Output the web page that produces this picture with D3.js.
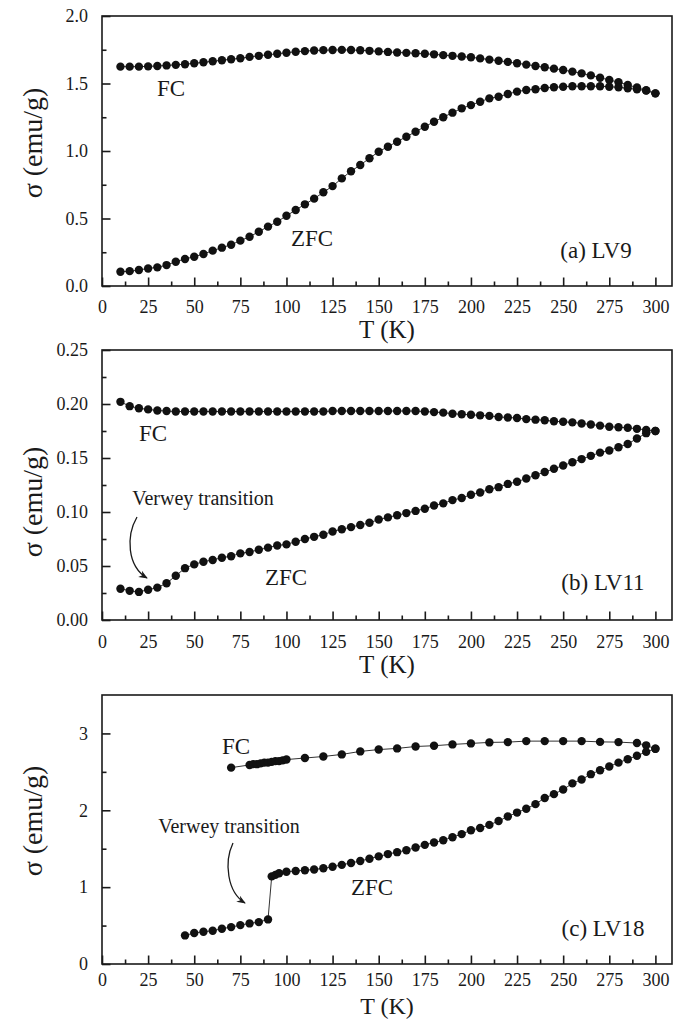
<!DOCTYPE html>
<html lang="en">
<head>
<meta charset="UTF-8">
<title>sigma vs T</title>
<script src="https://d3js.org/d3.v7.min.js"></script>
<style>
    body { margin: 0; background: #fff; }
    svg text { font-family: "Liberation Serif", "Times New Roman", serif; fill: #1a1a1a; }
</style>
</head>
<body>
<svg id="chart" width="674" height="1021"></svg>
<script>
// temperatures (K) shared by panels a and b
const tempsAB = [10, 15, 20, 25, 30, 35, 40, 45, 50, 55, 60, 65, 70, 75, 80, 85, 90, 95, 100, 105,
    110, 115, 120, 125, 130, 135, 140, 145, 150, 155, 160, 165, 170, 175, 180, 185, 190, 195, 200, 205,
    210, 215, 220, 225, 230, 235, 240, 245, 250, 255, 260, 265, 270, 275, 280, 285, 290, 295, 300];

// (a) LV9
const fcA = [1.625, 1.625, 1.625, 1.627, 1.63, 1.634, 1.638, 1.643, 1.65, 1.657,
    1.665, 1.672, 1.68, 1.687, 1.697, 1.705, 1.713, 1.72, 1.728, 1.735,
    1.74, 1.744, 1.747, 1.748, 1.749, 1.748, 1.746, 1.742, 1.738, 1.734,
    1.73, 1.727, 1.724, 1.72, 1.716, 1.71, 1.705, 1.70, 1.694, 1.686,
    1.677, 1.668, 1.66, 1.65, 1.64, 1.63, 1.62, 1.61, 1.60, 1.588,
    1.575, 1.56, 1.543, 1.526, 1.51, 1.49, 1.47, 1.45, 1.427];
const zfcA = [0.106, 0.11, 0.118, 0.13, 0.138, 0.155, 0.18, 0.20, 0.217, 0.237,
    0.262, 0.284, 0.306, 0.336, 0.365, 0.402, 0.44, 0.476, 0.52, 0.563,
    0.605, 0.647, 0.694, 0.74, 0.797, 0.85, 0.896, 0.946, 0.995, 1.032,
    1.069, 1.106, 1.143, 1.18, 1.217, 1.25, 1.284, 1.316, 1.34, 1.365,
    1.39, 1.402, 1.422, 1.44, 1.452, 1.457, 1.467, 1.472, 1.476, 1.48,
    1.48, 1.48, 1.48, 1.476, 1.472, 1.465, 1.457, 1.447, 1.427];

// (b) LV11
const fcB = [0.202, 0.198, 0.196, 0.195, 0.194, 0.1935, 0.193, 0.193, 0.193, 0.193,
    0.193, 0.193, 0.193, 0.193, 0.193, 0.193, 0.193, 0.193, 0.193, 0.193,
    0.193, 0.193, 0.193, 0.1935, 0.1935, 0.1935, 0.1935, 0.1935, 0.1935, 0.1935,
    0.1935, 0.1935, 0.1935, 0.193, 0.1925, 0.192, 0.191, 0.1905, 0.190, 0.1895,
    0.189, 0.188, 0.1875, 0.187, 0.186, 0.1855, 0.185, 0.184, 0.1835, 0.183,
    0.182, 0.181, 0.180, 0.179, 0.1785, 0.178, 0.177, 0.176, 0.175];
const zfcB = [0.029, 0.027, 0.026, 0.028, 0.030, 0.034, 0.041, 0.048, 0.0515, 0.054,
    0.0556, 0.0577, 0.059, 0.0617, 0.063, 0.065, 0.067, 0.069, 0.070, 0.0725,
    0.075, 0.077, 0.079, 0.082, 0.084, 0.086, 0.088, 0.090, 0.093, 0.095,
    0.097, 0.099, 0.101, 0.103, 0.106, 0.108, 0.111, 0.113, 0.116, 0.118,
    0.121, 0.123, 0.126, 0.128, 0.131, 0.134, 0.137, 0.140, 0.143, 0.146,
    0.149, 0.152, 0.155, 0.157, 0.160, 0.163, 0.168, 0.173, 0.175];

// (c) LV18
const tempsFcC = [70, 80, 82, 84, 86, 88, 90, 92, 94, 96, 98, 100,
    110, 120, 130, 140, 150, 160, 170, 180, 190, 200, 210, 220, 230, 240, 250, 260, 270, 280, 290, 295, 300];
const fcC = [2.555, 2.59, 2.60, 2.60, 2.61, 2.62, 2.62, 2.63, 2.64, 2.64, 2.65, 2.66,
    2.68, 2.70, 2.727, 2.766, 2.79, 2.805, 2.83, 2.84, 2.857, 2.87, 2.883, 2.887, 2.90, 2.90, 2.90, 2.90,
    2.89, 2.887, 2.875, 2.845, 2.80];
const tempsZfcC = [45, 50, 55, 60, 65, 70, 75, 80, 85, 90, 92, 94, 96,
    100, 105, 110, 115, 120, 125, 130, 135, 140, 145, 150, 155, 160, 165, 170, 175, 180, 185, 190, 195,
    200, 205, 210, 215, 220, 225, 230, 235, 240, 245, 250, 255, 260, 265, 270, 275, 280, 285, 290, 295, 300];
const zfcC = [0.372, 0.403, 0.42, 0.433, 0.459, 0.48, 0.506, 0.528, 0.545, 0.58, 1.14, 1.16, 1.18,
    1.20, 1.21, 1.22, 1.23, 1.245, 1.265, 1.29, 1.315, 1.34, 1.37, 1.40, 1.43, 1.455, 1.48, 1.515, 1.55,
    1.58, 1.61, 1.65, 1.69, 1.74, 1.77, 1.81, 1.86, 1.92, 1.97, 2.02, 2.08, 2.16, 2.21, 2.27, 2.35,
    2.40, 2.47, 2.52, 2.57, 2.62, 2.665, 2.71, 2.76, 2.80];

// tick labels
const xTicks = [0, 25, 50, 75, 100, 125, 150, 175, 200, 225, 250, 275, 300];
const yTicksA = [0, 0.5, 1.0, 1.5, 2.0];
const yTicksB = [0, 0.05, 0.10, 0.15, 0.20, 0.25];
const yTicksC = [0, 1, 2, 3];

const svg = d3.select("#chart");
const left = 102, right = 672;
const x = d3.scaleLinear().domain([0, 309]).range([left, right]);

// arrow head
svg.append("defs").append("marker")
    .attr("id", "head")
    .attr("viewBox", "0 0 10 10")
    .attr("refX", 9).attr("refY", 5)
    .attr("markerWidth", 9).attr("markerHeight", 9)
    .attr("markerUnits", "userSpaceOnUse")
    .attr("orient", "auto")
    .append("path").attr("d", "M0,1 L10,5 L0,9 L3,5 Z").attr("fill", "#1a1a1a");

const panels = [
    {
        top: 16, bottom: 286, domain: [0, 2], ticks: yTicksA, minor: 0.25, fmt: ".1f",
        series: [[tempsAB, fcA], [tempsAB, zfcA]], labelY: 143, tickOff: 14, titleOff: 52, titleSize: 25,
        notes: [["FC", 171, 96], ["ZFC", 312, 246], ["(a) LV9", 596, 258]]
    },
    {
        top: 350, bottom: 620, domain: [0, 0.25], ticks: yTicksB, minor: 0.025, fmt: ".2f",
        series: [[tempsAB, fcB], [tempsAB, zfcB]], labelY: 502, tickOff: 15, titleOff: 53, titleSize: 25,
        notes: [["FC", 153, 441], ["ZFC", 286, 585], ["(b) LV11", 603, 590]],
        verwey: { text: [203, 505], path: "M137,517 C126,536 127,566 147,578" }
    },
    {
        top: 695, bottom: 964, domain: [0, 3.5], ticks: yTicksC, minor: 0.5, fmt: "d",
        series: [[tempsFcC, fcC], [tempsZfcC, zfcC]], labelY: 821, tickOff: 9, titleOff: 50, titleSize: 24,
        notes: [["FC", 236, 754], ["ZFC", 372, 895], ["(c) LV18", 603, 936]],
        verwey: { text: [229, 833], path: "M233,843 C224,862 227,892 245,903" }
    }
];

panels.forEach(p => {
    const y = d3.scaleLinear().domain(p.domain).range([p.bottom, p.top]);
    const g = svg.append("g");

    // minor ticks
    g.append("g")
        .attr("transform", `translate(0,${p.bottom})`)
        .call(d3.axisBottom(x).tickValues(d3.range(12.5, 309, 25)).tickSize(-4.5).tickFormat(""))
        .call(a => a.select(".domain").remove());
    g.append("g")
        .attr("transform", `translate(${left},0)`)
        .call(d3.axisLeft(y).tickValues(d3.range(p.minor, p.domain[1], p.minor * 2)).tickSize(-4.5).tickFormat(""))
        .call(a => a.select(".domain").remove());

    // major ticks
    const xa = g.append("g")
        .attr("transform", `translate(0,${p.bottom})`)
        .call(d3.axisBottom(x).tickValues(xTicks).tickSize(-8.5).tickPadding(p.tickOff));
    const ya = g.append("g")
        .attr("transform", `translate(${left},0)`)
        .call(d3.axisLeft(y).tickValues(p.ticks).tickSize(-8.5).tickPadding(14).tickFormat(d3.format(p.fmt)));
    [xa, ya].forEach(a => {
        a.select(".domain").remove();
        a.selectAll("text").attr("font-size", 18).attr("font-family", null);
    });
    g.selectAll(".tick line").attr("stroke", "#1a1a1a").attr("stroke-width", 1.6);

    // frame
    g.append("rect")
        .attr("x", left).attr("y", p.top)
        .attr("width", right - left).attr("height", p.bottom - p.top)
        .attr("fill", "none").attr("stroke", "#1a1a1a").attr("stroke-width", 1.6);

    // data
    const line = d3.line().x(d => x(d[0])).y(d => y(d[1]));
    p.series.forEach(([ts, vs]) => {
        const pts = ts.map((t, i) => [t, vs[i]]);
        g.append("path").datum(pts)
            .attr("d", line).attr("fill", "none")
            .attr("stroke", "#333").attr("stroke-width", 1);
        g.selectAll(null).data(pts).enter().append("circle")
            .attr("cx", d => x(d[0])).attr("cy", d => y(d[1]))
            .attr("r", 4.2).attr("fill", "#111");
    });

    // axis titles
    g.append("text")
        .attr("x", (left + right) / 2).attr("y", p.bottom + p.titleOff)
        .attr("text-anchor", "middle").attr("font-size", p.titleSize)
        .text("T (K)");
    g.append("text")
        .attr("transform", `translate(42,${p.labelY}) rotate(-90)`)
        .attr("text-anchor", "middle").attr("font-size", 28)
        .text("σ (emu/g)");

    // in-plot labels
    p.notes.forEach(([t, nx, ny]) => {
        g.append("text").attr("x", nx).attr("y", ny)
            .attr("text-anchor", "middle").attr("font-size", 23)
            .text(t);
    });

    if (p.verwey) {
        g.append("text")
            .attr("x", p.verwey.text[0]).attr("y", p.verwey.text[1])
            .attr("text-anchor", "middle").attr("font-size", 20)
            .text("Verwey transition");
        g.append("path")
            .attr("d", p.verwey.path)
            .attr("fill", "none").attr("stroke", "#1a1a1a").attr("stroke-width", 1.3)
            .attr("marker-end", "url(#head)");
    }
});
</script>
</body>
</html>
